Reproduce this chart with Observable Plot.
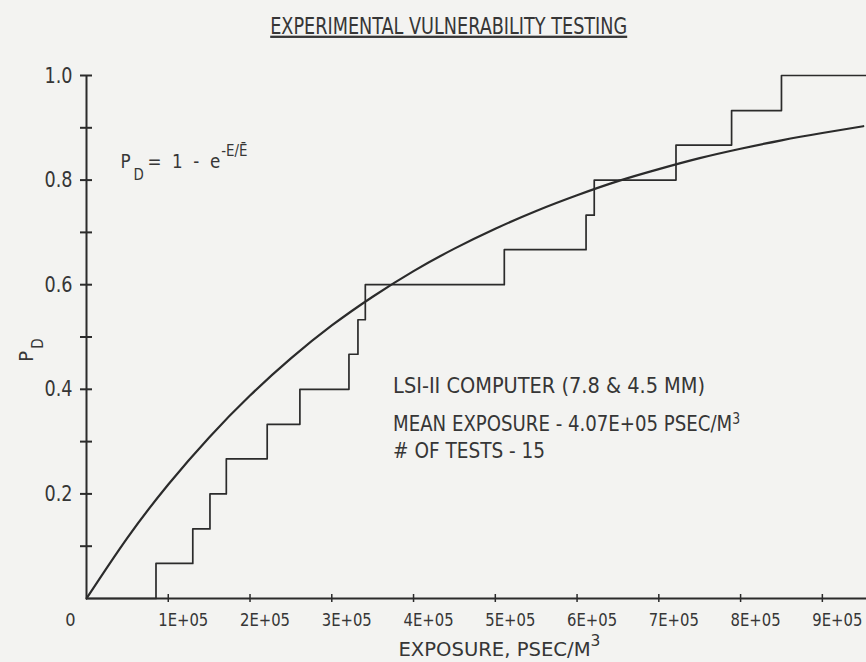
<!DOCTYPE html>
<html><head><meta charset="utf-8">
<script src="https://cdn.jsdelivr.net/npm/d3@7"></script>
<script src="https://cdn.jsdelivr.net/npm/@observablehq/plot@0.6"></script>
<style>
body{margin:0;background:#f3f3f1;}
#chart svg{background:#f3f3f1;display:block;}
</style></head><body><div id="chart"></div>
<script>
// ---- data ----
const testExposures = [0.85e5, 1.30e5, 1.51e5, 1.71e5, 2.21e5, 2.61e5, 3.21e5, 3.32e5, 3.41e5, 5.11e5, 6.11e5, 6.21e5, 7.21e5, 7.89e5, 8.50e5];
const testPD = [0.067, 0.133, 0.200, 0.267, 0.333, 0.400, 0.467, 0.533, 0.600, 0.667, 0.733, 0.800, 0.867, 0.933, 1.000];
const curveExposure = [0, 0.5e5, 1e5, 1.5e5, 2e5, 2.5e5, 3e5, 3.5e5, 4e5, 4.5e5, 5e5, 5.5e5, 6e5, 6.5e5, 7e5, 7.5e5, 8e5, 8.5e5, 9e5, 9.5e5];
const curvePD = [0, 0.116, 0.218, 0.308, 0.388, 0.459, 0.522, 0.577, 0.626, 0.669, 0.707, 0.741, 0.771, 0.798, 0.821, 0.842, 0.860, 0.876, 0.890, 0.903];
const xTickValues = [1e5, 2e5, 3e5, 4e5, 5e5, 6e5, 7e5, 8e5, 9e5];
const xTickLabels = ["1E+05", "2E+05", "3E+05", "4E+05", "5E+05", "6E+05", "7E+05", "8E+05", "9E+05"];
const yTickValues = [0.1, 0.2, 0.3, 0.4, 0.5, 0.6, 0.7, 0.8, 0.9, 1.0];
const yLabelValues = [0.2, 0.4, 0.6, 0.8, 1.0];
const yLabelTexts = ["0.2", "0.4", "0.6", "0.8", "1.0"];
const xMax = 9.54e5;
const titleText = "EXPERIMENTAL VULNERABILITY TESTING";
const xTitleText = "EXPOSURE, PSEC/M";
const annLines = ["LSI-II COMPUTER (7.8 & 4.5 MM)", "MEAN EXPOSURE - 4.07E+05 PSEC/M", "# OF TESTS - 15"];

// ---- tables built from the arrays ----
const steps = [{x: 0, y: 0}, ...testExposures.map((x, i) => ({x, y: testPD[i]})), {x: xMax, y: testPD[testPD.length - 1]}];
const curve = curveExposure.map((x, i) => ({x, y: curvePD[i]}));

const ink = "#2b2b2b";
const txt = "#363636";
const font = "'DejaVu Sans Condensed', 'Liberation Sans Narrow', 'DejaVu Sans', sans-serif";

const chart = Plot.plot({
  width: 866, height: 662,
  marginLeft: 86, marginRight: 0, marginTop: 75, marginBottom: 64,
  style: {fontFamily: font, background: "#f3f3f1", color: txt},
  x: {domain: [0, xMax], axis: null},
  y: {domain: [0, 1], axis: null},
  marks: [
    Plot.ruleY([0], {x1: 0, x2: xMax, stroke: ink, strokeWidth: 2}),
    Plot.ruleX([0], {y1: 0, y2: 1, stroke: ink, strokeWidth: 2}),
    Plot.ruleY(yTickValues, {y: d => d, x1: 0, x2: 0, insetLeft: -6, insetRight: -6, stroke: ink, strokeWidth: 2}),
    Plot.ruleX(xTickValues, {x: d => d, y1: 0, y2: 0, insetTop: -4, insetBottom: -4, stroke: ink, strokeWidth: 1.5}),
    Plot.line(steps, {x: "x", y: "y", curve: "step-after", stroke: ink, strokeWidth: 1.7}),
    Plot.line(curve, {x: "x", y: "y", curve: "natural", stroke: ink, strokeWidth: 2.2}),
    Plot.text(xTickValues, {x: d => d, y: 0, text: (d, i) => xTickLabels[i], dx: 15, dy: 27, lineAnchor: "bottom", fontSize: 18, fill: txt}),
    Plot.text(["0"], {x: 0, y: 0, text: d => d, dx: -16, dy: 27, lineAnchor: "bottom", fontSize: 18, fill: txt}),
    Plot.text(yLabelValues, {x: 0, y: d => d, text: (d, i) => yLabelTexts[i], dx: -14, textAnchor: "end", fontSize: 22, fill: txt}),
    Plot.text([titleText], {x: 4.43e5, y: 1.080, text: d => d, lineAnchor: "bottom", fontSize: 23, fill: txt}),
    Plot.text([xTitleText], {x: 5.05e5, y: -0.109, text: d => d, lineAnchor: "bottom", fontSize: 19, fill: txt}),
    Plot.text(["P"], {x: 0, y: 0.475, text: d => d, dx: -60, rotate: -90, fontSize: 20, fill: txt}),
    Plot.text([annLines[0]], {x: 3.75e5, y: 0.392, text: d => d, textAnchor: "start", lineAnchor: "bottom", fontSize: 22, fill: txt}),
    Plot.text([annLines[1]], {x: 3.75e5, y: 0.321, text: d => d, textAnchor: "start", lineAnchor: "bottom", fontSize: 22, fill: txt}),
    Plot.text([annLines[2]], {x: 3.75e5, y: 0.268, text: d => d, textAnchor: "start", lineAnchor: "bottom", fontSize: 22, fill: txt}),
    Plot.text(["P"], {x: 0.416e5, y: 0.824, text: d => d, textAnchor: "start", lineAnchor: "bottom", fontSize: 20, fill: txt})
  ]
});
document.getElementById("chart").appendChild(chart);

// ---- typographic touches: sub/superscripts, underline, condensed widths ----
const svg = d3.select(chart);
const byText = list => svg.selectAll("text").filter(function () { return list.includes(this.textContent); });
const fit = (s, w) => s.attr("textLength", w).attr("lengthAdjust", "spacingAndGlyphs");
const sup = (s, size, dy) => s.each(function () { d3.select(this).append("tspan").attr("dy", dy).attr("font-size", size).text("3"); });

fit(byText([titleText]), 357).attr("text-decoration", "underline").style("text-underline-offset", "6px");
fit(byText(xTickLabels), 50);
fit(byText(yLabelTexts), 28);
const xt = byText([xTitleText]);
sup(xt, 15, -10); fit(xt, 202);
fit(byText([annLines[0]]), 312);
const a2 = byText([annLines[1]]);
sup(a2, 15, -7); fit(a2, 347);
fit(byText([annLines[2]]), 152);

const ps = byText(["P"]).nodes();
if (ps.length >= 2) {
  // rotated axis title
  d3.select(ps[0]).append("tspan").attr("dx", 2).attr("dy", 10).attr("font-size", 15).text("D");
  // formula
  const t = d3.select(ps[1]);
  t.append("tspan").attr("dx", 3).attr("dy", 12).attr("font-size", 16).text("D");
  t.append("tspan").attr("dx", 4).attr("dy", -12).text("=  1  -  e");
  t.append("tspan").attr("dx", 1).attr("dy", -12).attr("font-size", 16).text("-E/Ē");
  fit(t, 127);
}
</script>
</body></html>
